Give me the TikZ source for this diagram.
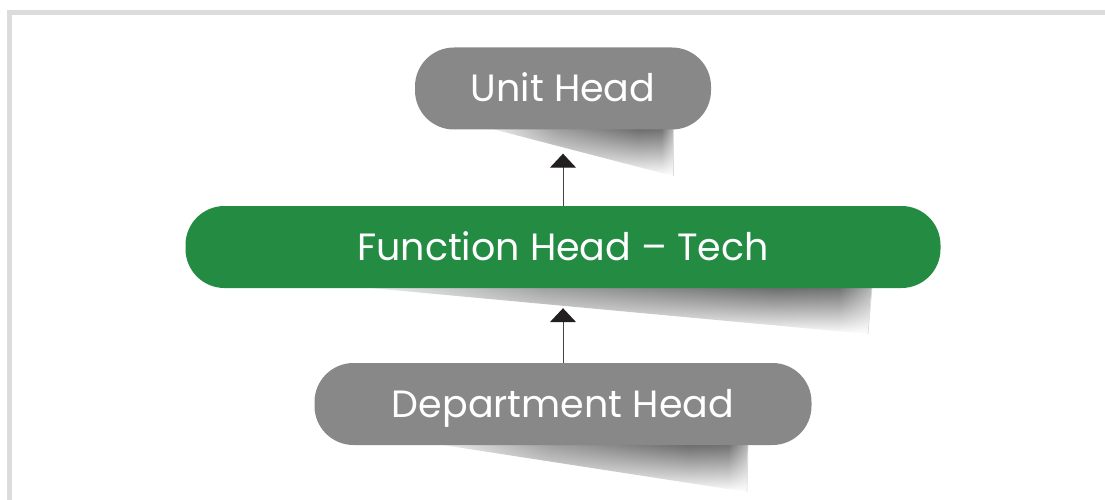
\documentclass[tikz,border=0pt]{standalone}
\usepackage{fontspec}
\setmainfont{Poppins}
\usetikzlibrary{arrows.meta,fadings}
\definecolor{boxgray}{HTML}{878887}
\definecolor{boxgreen}{HTML}{238C42}
\definecolor{framegray}{HTML}{DCDCDC}
\definecolor{tipblack}{HTML}{231F20}
\definecolor{linegray}{HTML}{444444}
\pgfdeclarehorizontalshading{wedgeshade}{100bp}{color(0bp)=(white); color(25bp)=(white); color(45bp)=(black!40); color(66bp)=(black!62); color(72bp)=(black!60); color(75bp)=(black!30); color(100bp)=(black!30)}
\begin{document}
\begin{tikzpicture}[x=1pt,y=-1pt,
  pill/.style={rounded corners=39pt, text=white, inner sep=0pt,
    minimum height=82pt, text height=27pt, text depth=0pt,
    font=\fontsize{38}{42}\selectfont},
  graypill/.style={pill, fill=boxgray},
  greenpill/.style={pill, fill=boxgreen},
  wedge/.style={shading=wedgeshade, path fading=south},
  wedgeedge/.style={draw=framegray, line width=0.7pt},
  conn/.style={draw=linegray, line width=1pt,
    -{Triangle[width=26pt,length=14pt,color=tipblack]}}]
\useasboundingbox (0,0) rectangle (1105,500);
% frame
\draw[framegray, line width=5pt] (1120,13) -- (9.5,13) -- (9.5,515);
% shadows
\shade[wedge] (477,125) -- (673,125) -- (673,176) -- cycle;
\draw[wedgeedge] (673,129) -- (673,176);
\shade[wedge] (327,284) -- (872,284) -- (868,334) -- cycle;
\draw[wedgeedge] (872,288) -- (868,334);
\shade[wedge] (417,441) -- (748,441) -- (747,492) -- cycle;
\draw[wedgeedge] (748,445) -- (747,492);
% boxes
\node[graypill, minimum width=296pt] (uh) at (563,88.5) {Unit Head};
\node[greenpill, minimum width=755pt] (fn) at (563,247) {Function Head – Tech};
\node[graypill, minimum width=497pt] (dh) at (563,404) {Department Head};
% connectors
\draw[conn, shorten >=24pt] (fn.north) -- (uh.south);
\draw[conn, shorten >=20pt] (dh.north) -- (fn.south);
\end{tikzpicture}
\end{document}
